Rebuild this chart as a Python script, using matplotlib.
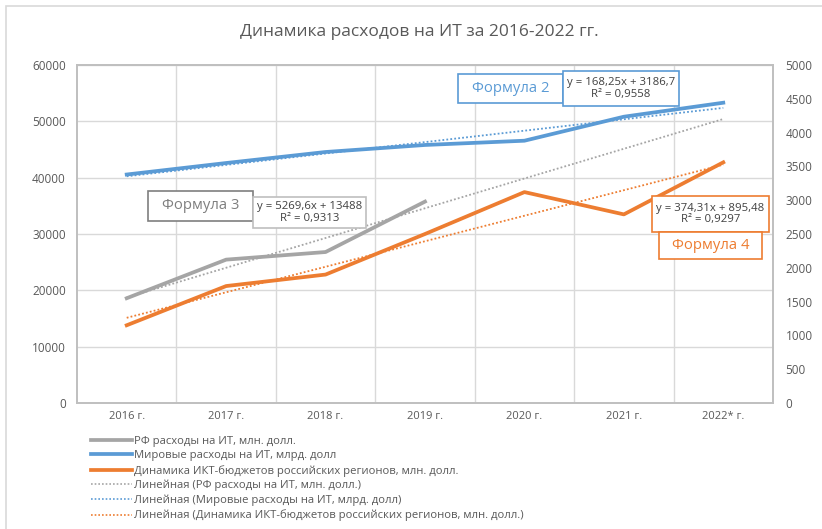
import numpy as np
import matplotlib
matplotlib.use("Agg")
import matplotlib.pyplot as plt
from matplotlib.patches import Rectangle
from matplotlib.lines import Line2D

plt.rcParams['font.family'] = ['Open Sans', 'DejaVu Sans']

# data
years = ["2016 г.", "2017 г.", "2018 г.", "2019 г.", "2020 г.", "2021 г.", "2022* г."]
rf_it = [18600, 25450, 26800, 35750]                       # left axis, only to 2019
world_it = [3380, 3550, 3713, 3817, 3880, 4235, 4442]     # right axis
regions_ikt = [1150, 1730, 1900, 2500, 3120, 2790, 3560]  # right axis

lbl_rf = "РФ расходы на ИТ, млн. долл."
lbl_world = "Мировые расходы на ИТ, млрд. долл"
lbl_reg = "Динамика ИКТ-бюджетов российских регионов, млн. долл."

c_gray = "#A5A5A5"
c_blue = "#5B9BD5"
c_orange = "#ED7D31"
c_text = "#595959"

W, H = 822, 529
fig = plt.figure(figsize=(W / 100, H / 100), dpi=100)


def fx(x):
    return x / W


def fy(y):
    return 1 - y / H


# outer chart border
fig.patches.append(Rectangle((fx(6), fy(600)), fx(900), 594 / H, transform=fig.transFigure,
                             fill=False, edgecolor="#d9d9d9", lw=1.2, clip_on=False))

ax = fig.add_axes([fx(77), fy(403), fx(773 - 77), (403 - 65) / H])
ax2 = ax.twinx()

x = np.arange(len(years))
x_rf = x[:len(rf_it)]

# linear trends (Excel style, fitted on x = 1..n)
p_rf = np.polyfit(x_rf + 1, rf_it, 1)
p_world = np.polyfit(x + 1, world_it, 1)
p_reg = np.polyfit(x + 1, regions_ikt, 1)

ax.plot(x, np.polyval(p_rf, x + 1), color=c_gray, lw=1.3, ls=(0, (1, 1.2)), zorder=3)
l1, = ax.plot(x_rf, rf_it, color=c_gray, lw=2.7, zorder=4, solid_joinstyle="round")

ax2.plot(x, np.polyval(p_world, x + 1), color=c_blue, lw=1.3, ls=(0, (1, 1.2)), zorder=3)
ax2.plot(x, np.polyval(p_reg, x + 1), color=c_orange, lw=1.3, ls=(0, (1, 1.2)), zorder=3)
l2, = ax2.plot(x, world_it, color=c_blue, lw=2.7, zorder=4, solid_joinstyle="round")
l3, = ax2.plot(x, regions_ikt, color=c_orange, lw=2.7, zorder=4, solid_joinstyle="round")

ax.set_xlim(-0.5, len(years) - 0.5)
ax.set_ylim(0, 60000)
ax.set_yticks(np.arange(0, 60001, 10000))
ax2.set_ylim(0, 5000)
ax2.set_yticks(np.arange(0, 5001, 500))
ax.set_xticks(x)
ax.set_xticklabels(years)
ax.set_xticks(x[:-1] + 0.5, minor=True)

ax.grid(axis="y", color="#d9d9d9", lw=1)
ax.grid(axis="x", which="minor", color="#d9d9d9", lw=1)
ax.set_axisbelow(True)

for a in (ax, ax2):
    for s in a.spines.values():
        s.set_color("#bfbfbf")
        s.set_linewidth(1.2)
ax.tick_params(axis="x", which="both", length=0, pad=6, labelsize=8, labelcolor=c_text)
ax.tick_params(axis="y", length=0, pad=8, labelsize=8.5, labelcolor=c_text)
ax2.tick_params(axis="y", length=0, pad=9, labelsize=8.5, labelcolor=c_text)

fig.text(fx(419), fy(32), "Динамика расходов на ИТ за 2016-2022 гг.", ha="center", va="center",
         fontsize=12.5, color=c_text)

# legend
handles = [l1, l2, l3,
           Line2D([], [], color=c_gray, lw=1.2, ls=(0, (1, 1.2))),
           Line2D([], [], color=c_blue, lw=1.2, ls=(0, (1, 1.2))),
           Line2D([], [], color=c_orange, lw=1.2, ls=(0, (1, 1.2)))]
labels = [lbl_rf, lbl_world, lbl_reg,
          "Линейная (" + lbl_rf + ")", "Линейная (" + lbl_world + ")", "Линейная (" + lbl_reg + ")"]
leg = fig.legend(handles, labels, loc="upper left", bbox_to_anchor=(fx(91), fy(436)),
                 frameon=False, fontsize=8.1, handlelength=3.6, handletextpad=0.2,
                 labelspacing=0.3, borderpad=0, borderaxespad=0)
for t in leg.get_texts():
    t.set_color(c_text)


def box(x0, y0, x1, y1, edge, text, color, size):
    fig.patches.append(Rectangle((fx(x0), fy(y1)), fx(x1 - x0), (y1 - y0) / H,
                                 transform=fig.transFigure, facecolor="white",
                                 edgecolor=edge, lw=1.2, zorder=10))
    fig.text(fx((x0 + x1) / 2), fy((y0 + y1) / 2), text, ha="center", va="center",
             fontsize=size, color=color, zorder=11, linespacing=1.1)


box(458, 74, 563, 103, c_blue, "Формула 2", c_blue, 10.7)
box(563, 71, 679, 106, c_blue, "y = 168,25x + 3186,7\nR² = 0,9558", "#404040", 8.2)
box(148, 191, 253, 221, "#7f7f7f", "Формула 3", "#7f7f7f", 10.7)
box(253, 197, 366, 228, "#bfbfbf", "y = 5269,6x + 13488\nR² = 0,9313", "#404040", 8.2)
box(652, 196, 769, 232, c_orange, "y = 374,31x + 895,48\nR² = 0,9297", "#404040", 8.2)
box(659, 232, 762, 259, c_orange, "Формула 4", c_orange, 10.7)

fig.savefig("out.png", dpi=100)
